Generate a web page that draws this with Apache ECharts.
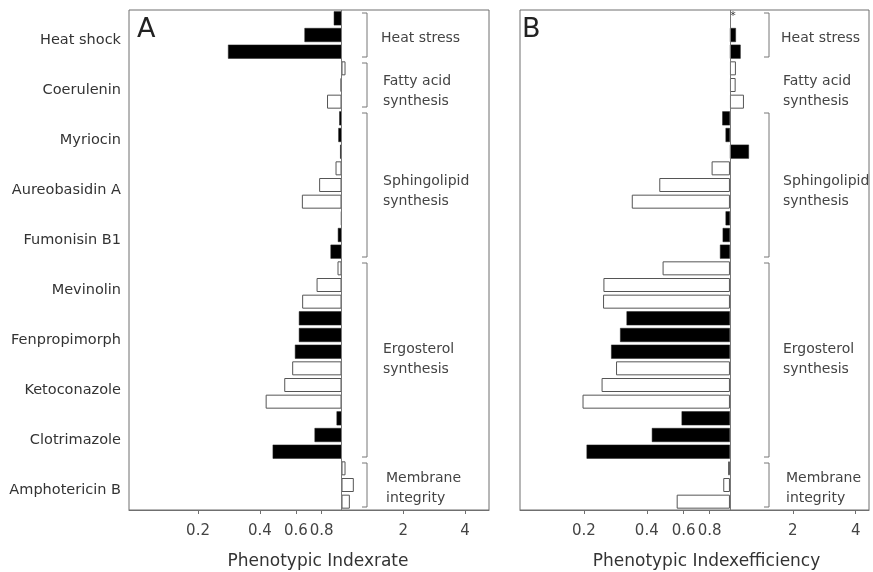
<!DOCTYPE html>
<html><head><meta charset="utf-8">
<script src="https://cdn.jsdelivr.net/npm/echarts@6/dist/echarts.min.js"></script>
<style>html,body{margin:0;padding:0;background:#fff}#c{width:873px;height:572px}</style>
</head><body><div id="c"></div>
<script>
// ---------- data ----------
const drugs = ['Heat shock','Coerulenin','Myriocin','Aureobasidin A','Fumonisin B1','Mevinolin','Fenpropimorph','Ketoconazole','Clotrimazole','Amphotericin B'];
const doses = ['1','2','3'];
// Panel A: phenotypic index (rate). filled = black bars, open = white bars
const rateFilled = [0.917,0.66,0.28, null,null,null, 0.975,0.965,0.985, null,null,null, 0.995,0.96,0.884, null,null,null, 0.62,0.62,0.593, null,null,null, 0.946,0.739,0.462, null,null,null];
const rateOpen   = [null,null,null, 1.046,0.99,0.85, null,null,null, 0.935,0.778,0.641, null,null,null, 0.956,0.756,0.643, null,null,null, 0.575,0.526,0.427, null,null,null, 1.046,1.148,1.098];
// Panel B: phenotypic index (efficiency)
const effFilled  = [null,1.068,1.125, null,null,null, 0.919,0.953,1.233, null,null,null, 0.953,0.923,0.896, null,null,null, 0.32,0.298,0.27, null,null,null, 0.587,0.423,0.206, null,null,null];
const effOpen    = [null,null,null, 1.068,1.065,1.167, null,null,null, 0.817,0.459,0.339, null,null,null, 0.476,0.248,0.247, null,null,null, 0.285,0.243,0.197, null,null,null, 0.98,0.929,0.556];
const tickValues = [0.2,0.4,0.6,0.8,2,4];
const tickLabels = ['0.2','0.4','0.6','0.8','2','4'];
const groupsA = [['Heat stress',0,2],['Fatty acid\nsynthesis',3,5],['Sphingolipid\nsynthesis',6,14],['Ergosterol\nsynthesis',15,26],['Membrane\nintegrity',27,29]];

// ---------- layout ----------
const categories = [];
drugs.forEach(d => doses.forEach(s => categories.push(d + '|' + s)));
const TOP = 10, H = 500, slotH = H / categories.length;
const gridA = {left:129, top:TOP, width:360, height:H};
const gridB = {left:520, top:TOP, width:349, height:H};

function fmtTick(v){
  const i = tickValues.findIndex(t => Math.abs(t - v) / t < 1e-4);
  return i >= 0 ? tickLabels[i] : '';
}
function xAxis(idx, min, max, name, pad){
  return {
    gridIndex: idx, type:'log', min:min, max:max,
    axisLine:{show:true, lineStyle:{color:'#6f6f6f', width:1}},
    axisTick:{show:true, inside:false, length:4, customValues: tickValues, lineStyle:{color:'#6f6f6f'}},
    axisLabel:{customValues: tickValues, formatter: fmtTick, margin:14, fontSize:15, color:'#444', fontFamily:'DejaVu Sans'},
    splitLine:{show:false}, minorTick:{show:false},
    name:name, nameLocation:'middle', nameGap:43,
    nameTextStyle:{fontSize:17, color:'#333', fontFamily:'DejaVu Sans', padding:[0,0,0,pad]}
  };
}
function yAxis(idx, showLabels){
  return {
    gridIndex: idx, type:'category', data:categories, inverse:true,
    axisLine:{show:false}, axisTick:{show:false}, splitLine:{show:false},
    axisLabel:{show:showLabels, interval:0, margin:8, fontSize:14.5, color:'#333', fontFamily:'DejaVu Sans',
      verticalAlign:'top', lineHeight:11,
      formatter:(v) => { const p = v.split('|'); return p[1] === '2' ? p[0] : ''; }}
  };
}
function bar(idx, data, filled){
  const s = {
    type:'bar', xAxisIndex:idx, yAxisIndex:idx, data:data, barWidth:14, barGap:'-100%',
    silent:true, animation:false,
    itemStyle: filled ? {color:'#000', borderColor:'#222', borderWidth:0.5}
                      : {color:'#fff', borderColor:'#555', borderWidth:1}
  };
  if (filled) {
    s.markLine = {silent:true, symbol:'none', animation:false, label:{show:false},
      lineStyle:{color:'#777', width:1, type:'solid'}, data:[{xAxis:1}]};
  }
  return s;
}

const chart = echarts.init(document.getElementById('c'), null, {renderer:'canvas'});
const graphics = [];
function addPanel(gx, bracketX, textX, letter, letterX, skipBracket){
  groupsA.forEach((g, k) => {
    const y0 = TOP + g[1] * slotH + 3, y1 = TOP + (g[2] + 1) * slotH - 3;
    if (!(skipBracket && k === 1)) {
      graphics.push({type:'polyline', silent:true, shape:{points:[[bracketX-5,y0],[bracketX,y0],[bracketX,y1],[bracketX-5,y1]]},
        style:{stroke:'#777', lineWidth:1, fill:null}});
    }
    const yc = TOP + (g[1] + g[2] + 1) / 2 * slotH + (g[0].indexOf('\n') >= 0 ? (k === 3 ? -1 : (k === 4 ? 3 : 6)) : 3);
    graphics.push({type:'text', silent:true, x:textX + (k === 0 ? -2 : (k === 4 ? 3 : 0)), y:yc,
      style:{text:g[0], fontSize:14, lineHeight:20, fill:'#444', fontFamily:'DejaVu Sans', verticalAlign:'middle', align:'left'}});
  });
  graphics.push({type:'text', silent:true, x:letterX, y:30, style:{text:letter, fontSize:27, fill:'#222', fontFamily:'DejaVu Sans', verticalAlign:'middle', align:'left'}});
}
addPanel(0, 367, 383, 'A', 137, false);
addPanel(1, 769, 783, 'B', 522, true);
graphics.push({type:'text', silent:true, x:733, y:16, style:{text:'*', fontSize:11, fill:'#333', fontFamily:'DejaVu Sans', align:'center', verticalAlign:'middle'}});

const gridCommon = {show:true, borderColor:'#6f6f6f', borderWidth:1, containLabel:false, outerBoundsMode:'none'};
chart.setOption({
  animation:false,
  backgroundColor:'#fff',
  grid:[Object.assign({}, gridCommon, gridA), Object.assign({}, gridCommon, gridB)],
  xAxis:[xAxis(0, 0.0922, 5.23, 'Phenotypic Indexrate', 18), xAxis(1, 0.0989, 4.63, 'Phenotypic Indexefficiency', 24)],
  yAxis:[yAxis(0, true), yAxis(1, false)],
  series:[bar(0, rateFilled, true), bar(0, rateOpen, false), bar(1, effFilled, true), bar(1, effOpen, false)],
  graphic: graphics
});
</script></body></html>
